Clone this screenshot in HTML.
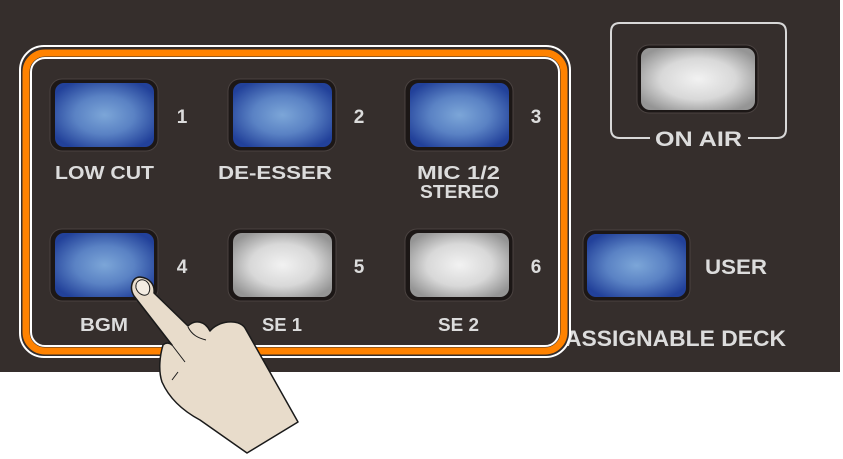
<!DOCTYPE html>
<html><head><meta charset="utf-8"><style>
html,body{margin:0;padding:0;background:#fff;}
svg{display:block}
text{font-family:"Liberation Sans",sans-serif;font-weight:bold;fill:#dcdcdc;}
</style></head><body>
<svg width="843" height="459" viewBox="0 0 843 459" xmlns="http://www.w3.org/2000/svg">
<defs>
<radialGradient id="bl" cx="50%" cy="50%" r="60%">
<stop offset="0" stop-color="#7ca6d8"/><stop offset="0.5" stop-color="#5a82c4"/><stop offset="1" stop-color="#22419a"/>
</radialGradient>
<radialGradient id="gr" cx="50%" cy="50%" r="60%">
<stop offset="0" stop-color="#f2f2f2"/><stop offset="0.55" stop-color="#d8d8d8"/><stop offset="1" stop-color="#959595"/>
</radialGradient>
</defs>
<rect x="0" y="0" width="840" height="372" fill="#352e2c"/>

<g>
<rect x="50" y="79" width="108" height="72" rx="12" fill="#1c1716" stroke="#4a4240"/>
<rect x="55" y="83" width="99" height="64" rx="9" fill="url(#bl)"/>
<rect x="228" y="79" width="108" height="72" rx="12" fill="#1c1716" stroke="#4a4240"/>
<rect x="233" y="83" width="99" height="64" rx="9" fill="url(#bl)"/>
<rect x="405" y="79" width="108" height="72" rx="12" fill="#1c1716" stroke="#4a4240"/>
<rect x="410" y="83" width="99" height="64" rx="9" fill="url(#bl)"/>
<rect x="50" y="229" width="108" height="72" rx="12" fill="#1c1716" stroke="#4a4240"/>
<rect x="55" y="233" width="99" height="64" rx="9" fill="url(#bl)"/>
<rect x="228" y="229" width="108" height="72" rx="12" fill="#1c1716" stroke="#4a4240"/>
<rect x="233" y="233" width="99" height="64" rx="9" fill="url(#gr)"/>
<rect x="405" y="229" width="108" height="72" rx="12" fill="#1c1716" stroke="#4a4240"/>
<rect x="410" y="233" width="99" height="64" rx="9" fill="url(#gr)"/>
<rect x="583" y="230" width="107" height="71" rx="12" fill="#1c1716" stroke="#4a4240"/>
<rect x="587" y="234" width="99" height="63" rx="9" fill="url(#bl)"/>
</g>

<g font-size="19">
<text x="182" y="123" text-anchor="middle">1</text>
<text x="359" y="123" text-anchor="middle">2</text>
<text x="536" y="123" text-anchor="middle">3</text>
<text x="182" y="273" text-anchor="middle">4</text>
<text x="359" y="273" text-anchor="middle">5</text>
<text x="536" y="273" text-anchor="middle">6</text>
</g>
<g font-size="18">
<text x="55" y="179" textLength="99" lengthAdjust="spacingAndGlyphs">LOW CUT</text>
<text x="218" y="179" textLength="114" lengthAdjust="spacingAndGlyphs">DE-ESSER</text>
<text x="417" y="179" textLength="83" lengthAdjust="spacingAndGlyphs">MIC 1/2</text>
<text x="420" y="198" textLength="79" lengthAdjust="spacingAndGlyphs">STEREO</text>
<text x="80" y="331" textLength="48" lengthAdjust="spacingAndGlyphs">BGM</text>
<text x="262" y="331" textLength="40" lengthAdjust="spacingAndGlyphs">SE 1</text>
<text x="438" y="331" textLength="41" lengthAdjust="spacingAndGlyphs">SE 2</text>
</g>
<text x="705" y="274" font-size="21" textLength="62" lengthAdjust="spacingAndGlyphs">USER</text>
<text x="565" y="346" font-size="22" textLength="221" lengthAdjust="spacingAndGlyphs">ASSIGNABLE DECK</text>

<path d="M650,138 L620,138 Q611,138 611,129 L611,32 Q611,23 620,23 L777,23 Q786,23 786,32 L786,129 Q786,138 777,138 L748,138" fill="none" stroke="#d8d8d8" stroke-width="2"/>
<text x="655" y="146" font-size="21" textLength="87" lengthAdjust="spacingAndGlyphs">ON AIR</text>
<rect x="637" y="45" width="121" height="68" rx="12" fill="#1c1716" stroke="#4a4240"/>
<rect x="641" y="48" width="114" height="62" rx="9" fill="url(#gr)"/>

<rect x="20" y="46" width="550" height="311" rx="24" fill="none" stroke="#fff" stroke-width="2"/>
<rect x="26" y="53" width="538" height="298" rx="19" fill="none" stroke="#ff8200" stroke-width="7"/>
<rect x="31" y="58" width="528" height="288" rx="14" fill="none" stroke="#fff" stroke-width="2"/>

<path d="M140,277 C150,278 155,285 154,293 L188,326 C195,319 205,321 210,331 C218,321 238,318 245,328 L298,422 L247,453 L200,420 C185,412 170,400 162,382 C158,370 160,355 163,345 C166,342 170,343 172,345 L134,296 C129,288 132,277 140,277 Z" fill="#e8dccb" stroke="#1a1a1a" stroke-width="1.5" stroke-linejoin="round"/>
<path d="M136,288 C135,281 141,278 146,281 C150,284 151,290 148,294 C144,297 138,294 136,288 Z" fill="#f3ece2" stroke="#1a1a1a" stroke-width="1"/>
<path d="M172,345 L185,362 M178,372 L172,380 M188,327 C192,335 198,338 206,340" fill="none" stroke="#1a1a1a" stroke-width="1"/>
</svg>
</body></html>
